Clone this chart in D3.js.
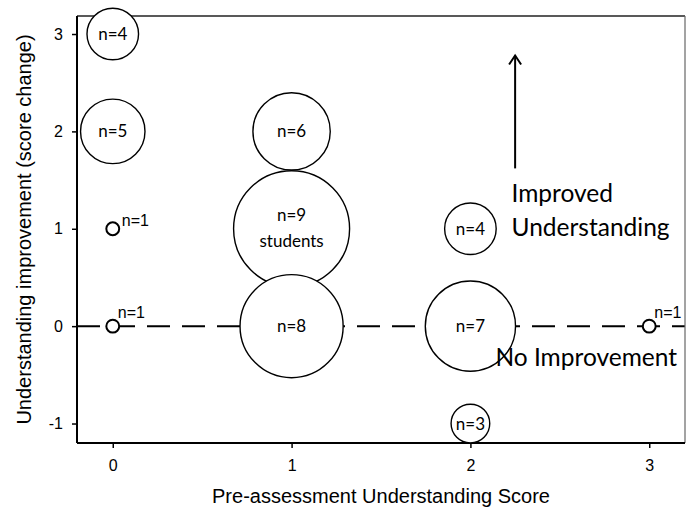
<!DOCTYPE html>
<html><head><meta charset="utf-8">
<script src="https://cdn.jsdelivr.net/npm/d3@7"></script>
<style>body{margin:0;background:#fff}svg{display:block}</style>
</head><body>
<svg id="chart" width="696" height="514"></svg>
<script>
// Data
const preScores   = [0, 0, 0, 0, 1, 1, 1, 2, 2, 2, 3];
const improvement = [3, 2, 1, 0, 2, 1, 0, 1, 0, -1, 0];
const counts      = [4, 5, 1, 1, 6, 9, 8, 4, 7, 3, 1];
const xTicks = [0, 1, 2, 3];
const yTicks = [-1, 0, 1, 2, 3];
const xTitle = "Pre-assessment Understanding Score";
const yTitle = "Understanding improvement (score change)";

const svg = d3.select("#chart");
const L = 77, R = 685, T = 16, B = 443;
const x = d3.scaleLinear().domain([-0.2, 3.2]).range([L, R]);
const y = d3.scaleLinear().domain([-1.2, 3.185]).range([B, T]);
const r = d3.scaleLinear().domain([0, 9]).range([0, 58]);
const arial = "Liberation Sans, Arial, sans-serif";
const calib = "Lato, sans-serif";

// zero line
svg.append("line").attr("x1", L).attr("x2", R).attr("y1", y(0)).attr("y2", y(0))
  .attr("stroke", "#000").attr("stroke-width", 2).attr("stroke-dasharray", "23,12");

// axes
const ax = svg.append("g").attr("transform", `translate(0,${B})`)
  .call(d3.axisBottom(x).tickValues(xTicks).tickFormat(d => String(d)).tickSize(5).tickPadding(12));
const ay = svg.append("g").attr("transform", `translate(${L},0)`)
  .call(d3.axisLeft(y).tickValues(yTicks).tickFormat(d => String(d)).tickSize(5).tickPadding(9));
[ax, ay].forEach(g => {
  g.select(".domain").remove();
  g.selectAll("line").attr("stroke", "#000").attr("stroke-width", 1.5);
  g.selectAll("text").attr("font-family", arial).attr("font-size", 16).attr("fill", "#000");
});

// frame
svg.append("line").attr("x1", L).attr("x2", R).attr("y1", T).attr("y2", T).attr("stroke", "#222").attr("stroke-width", 1.5);
svg.append("line").attr("x1", R).attr("x2", R).attr("y1", T).attr("y2", B).attr("stroke", "#666").attr("stroke-width", 1.2);
svg.append("line").attr("x1", L).attr("x2", L).attr("y1", T).attr("y2", B).attr("stroke", "#000").attr("stroke-width", 2);
svg.append("line").attr("x1", L).attr("x2", R).attr("y1", B).attr("y2", B).attr("stroke", "#000").attr("stroke-width", 2);

// bubbles
const data = preScores.map((p, i) => ({p, v: improvement[i], n: counts[i]}));
svg.append("g").selectAll("circle").data(data).join("circle")
  .attr("cx", d => x(d.p)).attr("cy", d => y(d.v)).attr("r", d => r(d.n))
  .attr("fill", "#fff").attr("stroke", "#000")
  .attr("stroke-width", d => d.n === 1 ? 2 : 1.4);

// labels inside
const big = data.filter(d => d.n > 1);
svg.append("g").selectAll("text").data(big).join("text")
  .attr("x", d => x(d.p)).attr("y", d => y(d.v) + (d.n === 9 ? -8 : 6))
  .attr("text-anchor", "middle").attr("font-family", calib).attr("font-size", 17)
  .text(d => "n=" + d.n);
const nine = data.find(d => d.n === 9);
svg.append("text").attr("x", x(nine.p)).attr("y", y(nine.v) + 18)
  .attr("text-anchor", "middle").attr("font-family", calib).attr("font-size", 17)
  .text("students");
// n=1 labels
svg.append("g").selectAll("text").data(data.filter(d => d.n === 1)).join("text")
  .attr("x", d => x(d.p) + (d.v === 0 ? 5 : 9)).attr("y", d => y(d.v) - (d.v === 0 ? 8 : 3))
  .attr("font-family", arial).attr("font-size", 16)
  .text("n=1");

// annotations
const arrX = x(2.25);
svg.append("line").attr("x1", arrX).attr("x2", arrX).attr("y1", y(1.62)).attr("y2", y(2.78))
  .attr("stroke", "#000").attr("stroke-width", 2);
svg.append("path").attr("d", `M${arrX-6},${y(2.78)+9} L${arrX},${y(2.78)} L${arrX+6},${y(2.78)+9}`)
  .attr("fill", "none").attr("stroke", "#000").attr("stroke-width", 2);
const ann = svg.append("g").attr("font-family", calib).attr("font-size", 24.5).attr("fill", "#000");
ann.append("text").attr("x", x(2.23)).attr("y", y(1.28)).text("Improved");
ann.append("text").attr("x", x(2.23)).attr("y", y(0.93)).text("Understanding");
ann.append("text").attr("x", x(2.14)).attr("y", y(-0.41)).text("No Improvement");

// titles
svg.append("text").attr("x", 381).attr("y", 503).attr("text-anchor", "middle")
  .attr("font-family", arial).attr("font-size", 20).text(xTitle);
svg.append("text").attr("transform", `translate(31,${(T + B) / 2}) rotate(-90)`).attr("text-anchor", "middle")
  .attr("font-family", arial).attr("font-size", 20).text(yTitle);
</script>
</body></html>
